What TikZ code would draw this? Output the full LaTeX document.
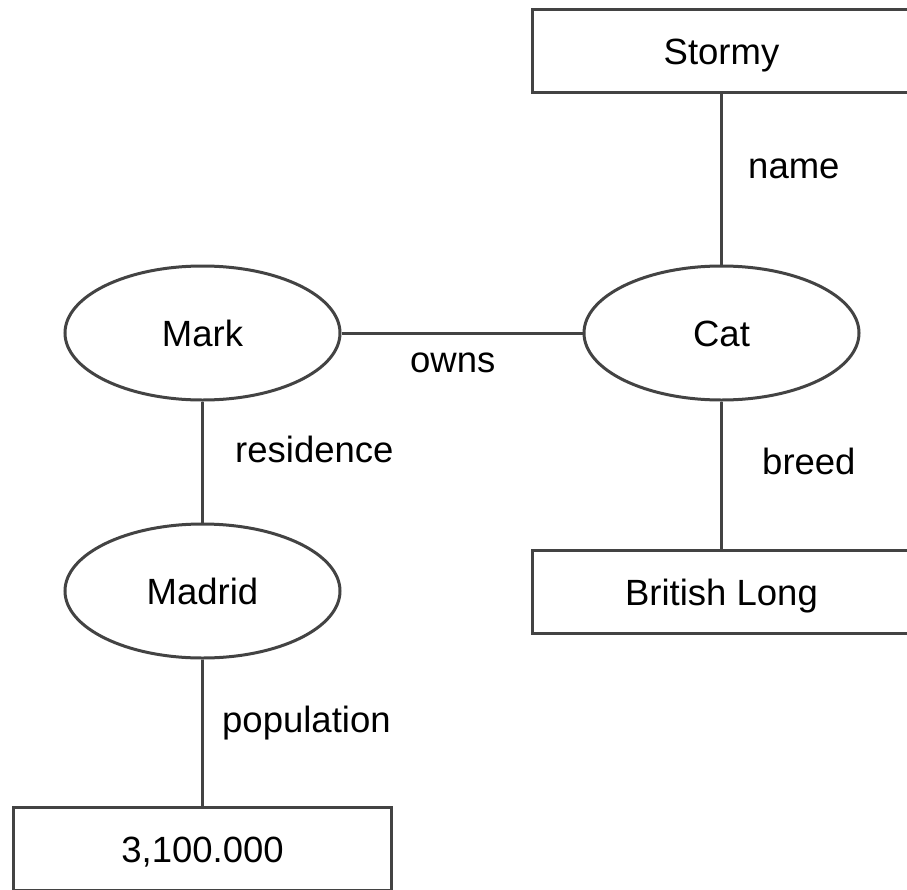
\documentclass[tikz,border=0pt]{standalone}
\usepackage{fontspec}
\setmainfont{Liberation Sans}
\usetikzlibrary{shapes.geometric}
\definecolor{edgegray}{HTML}{434343}
\tikzset{
  base/.style={font=\fontsize{36.5bp}{44bp}\selectfont, text=black},
  entity/.style={base, draw=edgegray, line width=3bp, ellipse, inner sep=0pt,
    minimum width=275bp, minimum height=134bp, text height=26bp, text depth=0pt},
  valuebox/.style={base, draw=edgegray, line width=3bp, rectangle, inner sep=0pt,
    minimum width=378bp, minimum height=83bp, text height=26bp, text depth=0pt},
  relation/.style={base, inner sep=0pt, anchor=base west},
  link/.style={draw=edgegray, line width=3bp}
}
\begin{document}
\begin{tikzpicture}[x=1bp,y=-1bp]
  \useasboundingbox (0,0) rectangle (907,890);
  \fill[white] (0,0) rectangle (907,890);

  % entities
  \node[entity] (mark)   at (202.5,333) {Mark};
  \node[entity] (cat)    at (721.5,333) {Cat};
  \node[entity] (madrid) at (202.5,591) {Madrid};

  % literal values
  \node[valuebox] (stormy)  at (721.5,51)  {Stormy};
  \node[valuebox] (breedv)  at (721.5,592) {British Long};
  \node[valuebox] (popv)    at (202.5,849) {3,100.000};

  % relations
  \draw[link] (stormy.south) -- (cat.north);
  \draw[link] (cat.south) -- (breedv.north);
  \draw[link] (mark.east) -- (cat.west);
  \draw[link] (mark.south) -- (madrid.north);
  \draw[link] (madrid.south) -- (popv.north);

  % relation labels
  \node[relation] (lname)  at (748,178) {name};
  \node[relation] (lbreed) at (762,474) {breed};
  \node[relation] (lowns)  at (410,372) {owns};
  \node[relation] (lres)   at (235,462) {residence};
  \node[relation] (lpop)   at (222,732) {population};
\end{tikzpicture}
\end{document}
